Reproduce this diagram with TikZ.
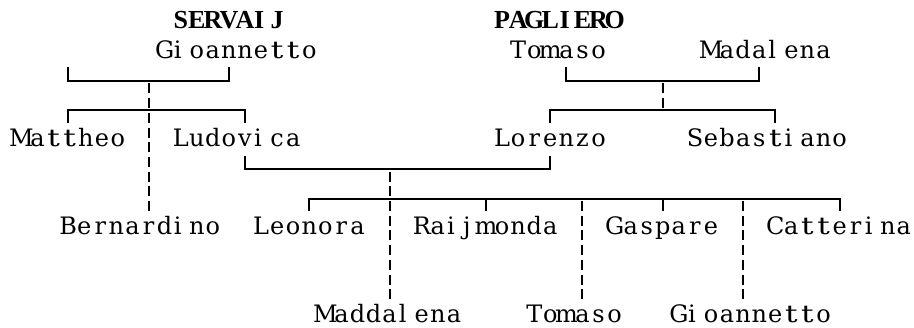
\documentclass[tikz,border=0pt]{standalone}
\usepackage{fontspec}
\setmainfont{DejaVu Serif}
\newfontfamily\boldface{Liberation Serif Bold}
\newcommand\mono[1]{\monoA#1\relax}
\def\monoA#1{\ifx\relax#1\else\monochar{#1}\expandafter\monoA\fi}
\def\narrowbox#1{\makebox[16.07pt][l]{\hspace{1.2pt}#1}}
\def\monochar#1{\if#1i\narrowbox{#1}\else\if#1l\narrowbox{#1}\else
  \if#1j\narrowbox{#1}\else\if#1I\narrowbox{#1}\else
  \if#1t\makebox[16.07pt][c]{\scalebox{1.3}[1]{#1}}\else
  \makebox[16.07pt][c]{#1}\fi\fi\fi\fi\fi}
\tikzset{
  txt/.style={anchor=base west,inner sep=0pt,outer sep=0pt,text=black,
    font=\fontsize{24pt}{30pt}\selectfont},
  btxt/.style={txt,font=\fontsize{26pt}{30pt}\boldface},
  conn/.style={line width=2pt,draw=black,line join=miter},
  dconn/.style={conn,dash pattern=on 10pt off 4.7pt,dash phase=12.35pt}
}
\begin{document}
\begin{tikzpicture}[x=1pt,y=-1pt]
\useasboundingbox[fill=white] (0,0) rectangle (914,328);
% ---- text nodes ----
\node[btxt] (servaij) at (172.70,29) {\mono{SERVAIJ}};
\node[btxt] (pagliero) at (494.10,29) {\mono{PAGLIERO}};
\node[txt] (gioannettoA) at (156.63,58.4) {\mono{Gioannetto}};
\node[txt] (tomasoA) at (510.17,58.4) {\mono{Tomaso}};
\node[txt] (madalena) at (703.01,58.4) {\mono{Madalena}};
\node[txt] (mattheo) at (13.50,146.6) {\mono{Mattheo}};
\node[txt] (ludovica) at (172.70,146.6) {\mono{Ludovica}};
\node[txt] (lorenzo) at (494.10,146.6) {\mono{Lorenzo}};
\node[txt] (sebastiano) at (686.94,146.6) {\mono{Sebastiano}};
\node[txt] (bernardino) at (60.21,234.8) {\mono{Bernardino}};
\node[txt] (leonora) at (253.05,234.8) {\mono{Leonora}};
\node[txt] (raijmonda) at (413.75,234.8) {\mono{Raijmonda}};
\node[txt] (gaspare) at (606.59,234.8) {\mono{Gaspare}};
\node[txt] (catterina) at (767.29,234.8) {\mono{Catterina}};
\node[txt] (maddalena) at (317.33,323) {\mono{Maddalena}};
\node[txt] (tomasoB) at (526.24,323) {\mono{Tomaso}};
\node[txt] (gioannettoB) at (670.87,323) {\mono{Gioannetto}};
% ---- junction coordinates ----
% left family
\coordinate (aL) at (68.245,67.5);
\coordinate (aR) at (228.945,67.5);
\coordinate (aC) at (148.595,81.1);
\coordinate (bL) at (68.245,123.5);
\coordinate (bR) at (245.015,123.5);
\coordinate (bC) at (148.595,110.5);
\coordinate (bernTop) at (148.595,213.4);
% right family
\coordinate (cL) at (566.415,67.5);
\coordinate (cR) at (759.255,67.5);
\coordinate (cC) at (662.835,81.1);
\coordinate (dL) at (550.345,123.5);
\coordinate (dR) at (775.325,123.5);
\coordinate (dC) at (662.835,110.5);
% marriage Ludovica - Lorenzo
\coordinate (eL) at (245.015,156);
\coordinate (eR) at (550.345,156);
\coordinate (eC) at (389.645,169.3);
% children bar
\coordinate (fL) at (309.295,198.7);
\coordinate (fR) at (839.605,198.7);
\coordinate (f29) at (486.065,198.7);
\coordinate (f40) at (662.835,198.7);
\coordinate (f35) at (582.485,198.7);
\coordinate (f45) at (743.185,198.7);
\coordinate (s18) at (309.295,211.5);
\coordinate (s29) at (486.065,211.5);
\coordinate (s40) at (662.835,211.5);
\coordinate (s51) at (839.605,211.5);
\coordinate (madTop) at (389.645,301.6);
\coordinate (tomTop) at (582.485,301.6);
\coordinate (gioTop) at (743.185,301.6);
% ---- connectors ----
\draw[conn] (aL) |- (aC) -| (aR);
\draw[conn] (bL) |- (bC) -| (bR);
\draw[dconn] (aC) -- (bernTop);
\draw[conn] (cL) |- (cC) -| (cR);
\draw[conn] (dL) |- (dC) -| (dR);
\draw[dconn] (cC) -- (dC);
\draw[conn] (eL) |- (eC) -| (eR);
\draw[dconn] (eC) -- (madTop);
\draw[conn] (s18) -- (fL) -- (fR) -- (s51);
\draw[conn] (f29) -- (s29);
\draw[conn] (f40) -- (s40);
\draw[dconn] (f35) -- (tomTop);
\draw[dconn] (f45) -- (gioTop);
\end{tikzpicture}
\end{document}
